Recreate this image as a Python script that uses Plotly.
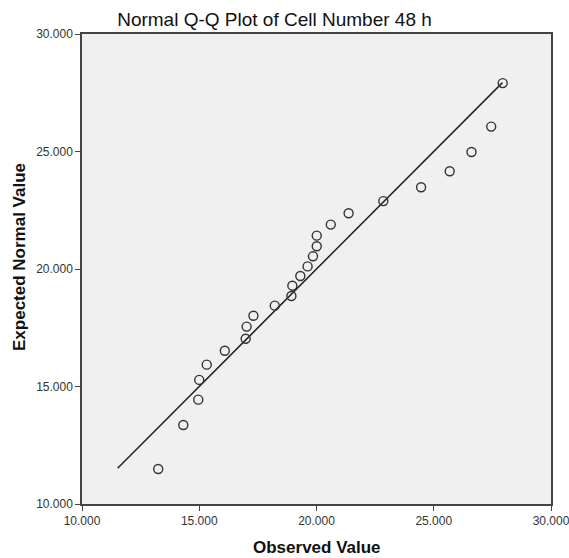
import plotly.graph_objects as go

observed = [13.25, 14.32, 14.96, 15.00, 15.32, 16.09, 16.98, 17.02, 17.31, 18.22,
            18.93, 18.97, 19.31, 19.62, 19.85, 20.01, 20.01, 20.61, 21.37, 22.85,
            24.46, 25.68, 26.61, 27.45, 27.94]
expected = [11.49, 13.36, 14.44, 15.28, 15.93, 16.52, 17.03, 17.55, 18.01, 18.44,
            18.85, 19.29, 19.70, 20.11, 20.54, 20.97, 21.42, 21.89, 22.37, 22.89,
            23.48, 24.16, 24.98, 26.06, 27.91]
# Reference line y = x over the expected range
ref_line = [11.52, 27.93]

tick_vals = [10, 15, 20, 25, 30]
tick_text = ["10.000", "15.000", "20.000", "25.000", "30.000"]

FONT = "Arial, Liberation Sans, sans-serif"
W, H = 569, 558

fig = go.Figure()
fig.add_trace(go.Scatter(
    x=ref_line, y=ref_line, mode="lines",
    line=dict(color="#222222", width=1.5),
    hoverinfo="skip", showlegend=False,
))
fig.add_trace(go.Scatter(
    x=observed, y=expected, mode="markers",
    marker=dict(symbol="circle-open", size=9, color="#333333",
                line=dict(width=1.4, color="#333333")),
    showlegend=False,
))

axis_common = dict(
    range=[10, 30], tickvals=tick_vals, ticktext=tick_text,
    showgrid=False, zeroline=False,
    showline=True, mirror=True, linecolor="#444444", linewidth=1.5,
    ticks="outside", ticklen=5, tickwidth=1.2, tickcolor="#444444",
    tickfont=dict(family=FONT, size=12, color="#333333"),
    ticklabeloverflow="allow", automargin=False,
    fixedrange=True,
)

fig.update_layout(
    width=W, height=H,
    margin=dict(l=82, r=18, t=34, b=54, autoexpand=False),
    paper_bgcolor="white", plot_bgcolor="#f0f0f0",
    xaxis=dict(**axis_common),
    yaxis=dict(**axis_common),
    title=dict(text="Normal Q-Q Plot of Cell Number 48 h",
               x=274.5 / W, xanchor="center", y=1 - 19 / H, yanchor="middle",
               xref="container", yref="container",
               font=dict(family=FONT, size=19, color="#111111")),
    annotations=[
        dict(text="<b>Observed Value</b>", xref="paper", yref="paper",
             x=(316.5 - 82) / (W - 82 - 18), y=-(547 - 504) / (504 - 34),
             xanchor="center", yanchor="middle", showarrow=False,
             font=dict(family=FONT, size=17, color="#111111")),
        dict(text="<b>Expected Normal Value</b>", xref="paper", yref="paper",
             x=-(82 - 19) / (W - 82 - 18), y=(504 - 257) / (504 - 34),
             xanchor="center", yanchor="middle", textangle=-90, showarrow=False,
             font=dict(family=FONT, size=17, color="#111111")),
    ],
)

fig.write_html("out.html")
